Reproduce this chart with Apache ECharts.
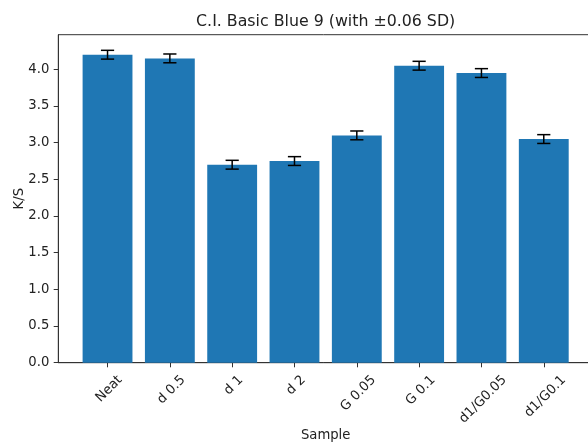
<!DOCTYPE html>
<html>
<head>
<meta charset="utf-8">
<script src="https://cdn.jsdelivr.net/npm/echarts@6/dist/echarts.min.js"></script>
<style>html,body{margin:0;padding:0;background:#fff}#c{width:588px;height:443px}</style>
</head>
<body>
<div id="c"></div>
<script>
const categories = ['Neat', 'd 0.5', 'd 1', 'd 2', 'G 0.05', 'G 0.1', 'd1/G0.05', 'd1/G0.1'];
const values = [4.20, 4.15, 2.70, 2.75, 3.10, 4.05, 3.95, 3.05];
const sdValues = [0.06, 0.06, 0.06, 0.06, 0.06, 0.06, 0.06, 0.06];
const yTicks = [0, 0.5, 1.0, 1.5, 2.0, 2.5, 3.0, 3.5, 4.0];
const titleText = 'C.I. Basic Blue 9 (with \u00b10.06 SD)';

const FONT = '"DejaVu Sans", sans-serif';
const TXT = '#222';
const LBL = 13.2;
const LH = 15;

const W = 588, H = 443;
const gLeft = 58.3, gTop = 34.7, gBottom = 80.3, gRight = -5;
const xMin = -0.79, xMax = 7.79;
const yMax = 4.473;
const plotW = W - gLeft - gRight;
const unit = plotW / (xMax - xMin);

// centre each rotated label's bounding box on its tick (like ha='center')
const ctx = document.createElement('canvas').getContext('2d');
ctx.font = LBL + 'px ' + FONT;
const idx = categories.map((c, i) => i);
const labelPos = categories.map((c, i) => {
  const w = ctx.measureText(c).width;
  return i + ((w - LH) / (2 * Math.SQRT2) + 1.5) / unit;
});

const chart = echarts.init(document.getElementById('c'));
chart.setOption({
  animation: false,
  backgroundColor: '#fff',
  title: {
    text: titleText, left: gLeft + plotW / 2, top: 14, textAlign: 'center', padding: 0,
    textStyle: {fontFamily: FONT, fontSize: 15.8, fontWeight: 'normal', color: TXT}
  },
  grid: {left: gLeft, top: gTop, bottom: gBottom, right: gRight, show: true, borderColor: '#333', borderWidth: 1, containLabel: false, outerBoundsMode: 'none'},
  xAxis: {
    type: 'value', min: xMin, max: xMax,
    name: 'Sample', nameLocation: 'middle', nameGap: 66, nameMoveOverlap: false,
    nameTextStyle: {fontFamily: FONT, fontSize: LBL, color: TXT},
    axisLine: {show: true, onZero: false, lineStyle: {color: '#333', width: 1}},
    axisTick: {show: true, length: 4.6, lineStyle: {color: '#333'}, customValues: idx},
    splitLine: {show: false},
    axisLabel: {
      customValues: labelPos, rotate: 45, align: 'right', verticalAlign: 'top', margin: 10,
      lineHeight: LH, hideOverlap: false,
      fontFamily: FONT, fontSize: LBL, color: TXT,
      formatter: v => categories[Math.round(v)]
    }
  },
  yAxis: {
    type: 'value', min: 0, max: yMax,
    name: 'K/S', nameLocation: 'middle', nameGap: 32, nameRotate: 90, nameMoveOverlap: false,
    nameTextStyle: {fontFamily: FONT, fontSize: LBL, color: TXT},
    axisLine: {show: true, onZero: false, lineStyle: {color: '#333', width: 1}},
    axisTick: {show: true, length: 4.6, lineStyle: {color: '#333'}, customValues: yTicks},
    splitLine: {show: false},
    axisLabel: {customValues: yTicks, margin: 9, fontFamily: FONT, fontSize: LBL, color: TXT, formatter: v => v.toFixed(1)}
  },
  series: [
    {
      type: 'bar', barWidth: 0.8 * unit,
      data: values.map((v, i) => [i, v]),
      itemStyle: {color: '#1f77b4'}
    },
    {
      type: 'custom',
      data: values.map((v, i) => [i, v, sdValues[i]]),
      z: 5,
      renderItem: (params, api) => {
        const x = api.value(0), y = api.value(1), s = api.value(2);
        const lo = api.coord([x, y - s]), hi = api.coord([x, y + s]);
        const cw = 6.6;
        const st = {stroke: '#000', lineWidth: 1.5};
        return {type: 'group', children: [
          {type: 'line', shape: {x1: lo[0], y1: lo[1], x2: hi[0], y2: hi[1]}, style: st},
          {type: 'line', shape: {x1: lo[0] - cw, y1: lo[1], x2: lo[0] + cw, y2: lo[1]}, style: st},
          {type: 'line', shape: {x1: hi[0] - cw, y1: hi[1], x2: hi[0] + cw, y2: hi[1]}, style: st}
        ]};
      }
    }
  ]
});
</script>
</body>
</html>
